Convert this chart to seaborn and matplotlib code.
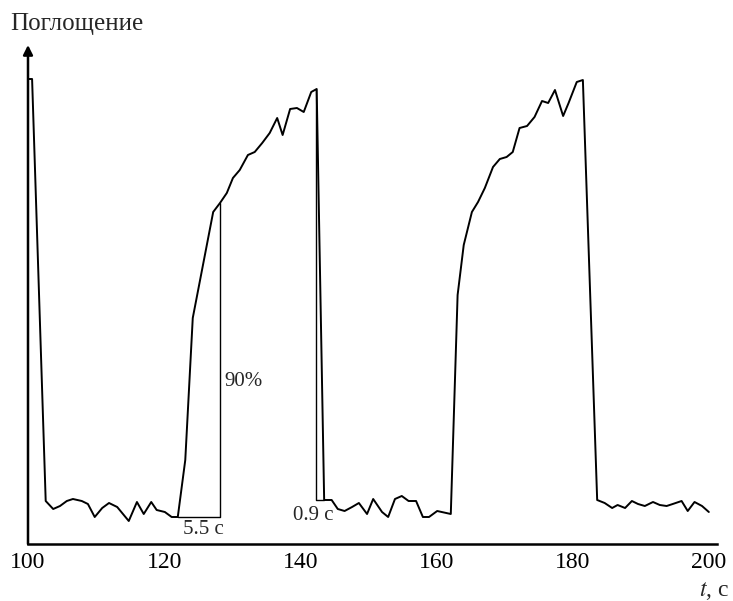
"""
Absorption vs time trace with rise/fall time markers (5.5 s and 0.9 s).
"""

import matplotlib
matplotlib.use("Agg")
import matplotlib.pyplot as plt
import seaborn as sns
import pandas as pd

# ── Data ──────────────────────────────────────────────────────────────────────
t_s = [
    100.0, 100.6, 102.6, 103.7, 104.7, 105.7, 106.6, 107.9, 108.8, 109.8,
    110.9, 111.9, 113.1, 114.8, 116.0, 117.0, 118.1, 118.9, 120.1, 121.1,
    122.0, 123.1, 124.2, 127.2, 128.2, 129.2, 130.1, 131.1, 132.3, 133.3,
    134.4, 135.5, 136.6, 137.4, 138.5, 139.5, 140.5, 141.6, 142.4, 143.5,
    144.6, 145.5, 146.5, 147.6, 148.6, 149.8, 150.7, 152.0, 152.9, 153.9,
    154.9, 155.9, 157.0, 158.0, 158.9, 160.1, 162.1, 163.1, 164.0, 165.2,
    166.1, 167.1, 168.3, 169.3, 170.3, 171.2, 172.2, 173.3, 174.4, 175.5,
    176.4, 177.4, 178.6, 179.4, 180.6, 181.5, 183.6, 184.7, 185.8, 186.6,
    187.7, 188.7, 189.6, 190.6, 191.8, 192.8, 193.8, 194.7, 196.0, 196.9,
    197.9, 199.0, 200.0,
]
absorption = [
    4.65, 4.65, 0.43, 0.35, 0.38, 0.43, 0.45, 0.43, 0.40, 0.27,
    0.36, 0.41, 0.37, 0.23, 0.42, 0.30, 0.42, 0.34, 0.32, 0.27,
    0.27, 0.84, 2.26, 3.32, 3.41, 3.51, 3.66, 3.74, 3.89, 3.92,
    4.01, 4.11, 4.26, 4.09, 4.35, 4.36, 4.32, 4.52, 4.55, 0.44,
    0.44, 0.35, 0.33, 0.37, 0.41, 0.30, 0.45, 0.32, 0.27, 0.45,
    0.48, 0.43, 0.43, 0.27, 0.27, 0.33, 0.30, 2.49, 2.99, 3.32,
    3.42, 3.56, 3.77, 3.85, 3.87, 3.92, 4.16, 4.18, 4.27, 4.43,
    4.41, 4.54, 4.28, 4.41, 4.62, 4.64, 0.44, 0.41, 0.36, 0.39,
    0.36, 0.43, 0.40, 0.38, 0.42, 0.39, 0.38, 0.40, 0.43, 0.33,
    0.42, 0.38, 0.32,
]

# rise (90 %) marker and fall marker
rise_t = [122.0, 128.2, 128.2]
rise_y = [0.27, 0.27, 3.41]
fall_t = [142.3, 142.3, 143.5]
fall_y = [4.55, 0.44, 0.44]

x_ticks = [100, 120, 140, 160, 180, 200]

df = pd.DataFrame({"t": t_s, "A": absorption})

# ── Style ─────────────────────────────────────────────────────────────────────
sns.set_style("white")
plt.rcParams["font.family"] = ["Liberation Serif", "DejaVu Serif"]
plt.rcParams["mathtext.fontset"] = "stix"

fig = plt.figure(figsize=(7.33, 6.01), dpi=100)
ax = fig.add_axes([28 / 733, 57 / 601, 689 / 733, 499 / 601])

sns.lineplot(data=df, x="t", y="A", ax=ax, color="black", lw=1.4,
             sort=False, estimator=None)
ax.plot(rise_t, rise_y, color="black", lw=1.0)
ax.plot(fall_t, fall_y, color="black", lw=1.0)

ax.set_xlim(100, 201.2)
ax.set_ylim(0, 4.99)

# axes: bottom spine + arrowed vertical axis
for s in ["top", "right", "left"]:
    ax.spines[s].set_visible(False)
ax.spines["bottom"].set_linewidth(1.8)
ax.spines["bottom"].set_color("black")
ax.annotate("", xy=(0, 1), xytext=(0, 0), xycoords="axes fraction",
            arrowprops=dict(arrowstyle="-|>", lw=1.8, color="black",
                            mutation_scale=14, shrinkA=0, shrinkB=0))

ax.set_xticks(x_ticks)
ax.set_xticklabels([str(v) for v in x_ticks])
ax.set_yticks([])
ax.tick_params(axis="x", direction="in", length=8, width=1.8,
               labelsize=17, pad=6, colors="black")
ax.set_xlabel("")
ax.set_ylabel("")

# text
fig.text(10 / 733, 1 - 30 / 601, "Поглощение", fontsize=18, va="baseline", ha="left")
fig.text(729 / 733, 1 - 596 / 601, r"$t$, с", fontsize=17, va="baseline", ha="right")
ax.text(128.9, 1.63, "90%", fontsize=15, va="center", ha="left")
ax.text(125.7, 0.15, "5.5 с", fontsize=15, va="center", ha="center")
ax.text(141.9, 0.28, "0.9 с", fontsize=15, va="center", ha="center")

fig.savefig("out.png", dpi=100)
